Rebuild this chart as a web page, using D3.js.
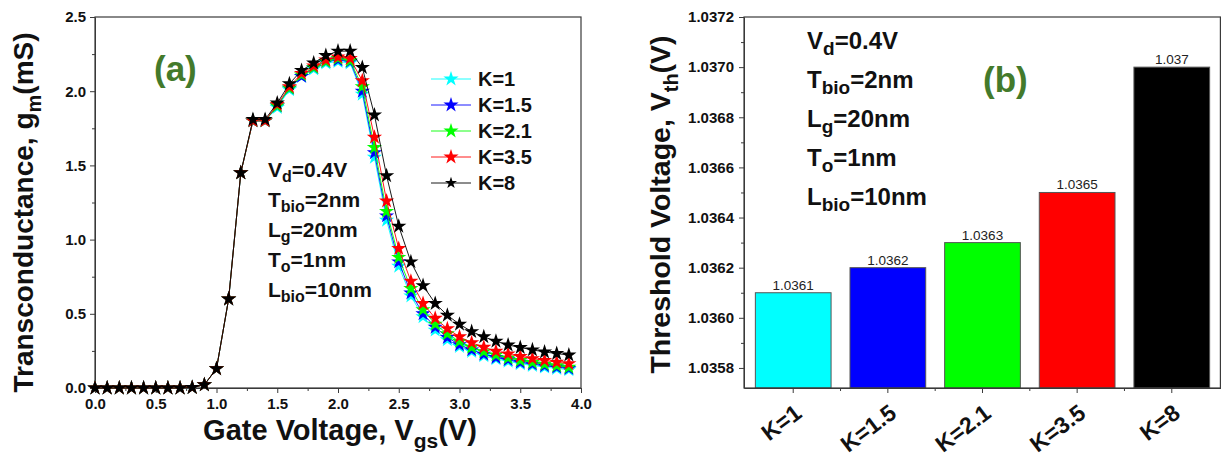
<!DOCTYPE html>
<html>
<head>
<meta charset="utf-8">
<script src="https://cdn.jsdelivr.net/npm/d3@7"></script>
<style>
  html, body { margin: 0; padding: 0; background: #fff; }
  svg { display: block; }
  text { font-family: "Liberation Sans", Arial, sans-serif; }
</style>
</head>
<body>
<svg id="fig" width="1221" height="459"></svg>
<script>
// ---------- data: transconductance vs gate voltage ----------
const vgs = [0.0,0.1,0.2,0.3,0.4,0.5,0.6,0.7,0.8,0.9,1.0,1.1,1.2,1.3,1.4,1.5,1.6,1.7,1.8,1.9,
             2.0,2.1,2.2,2.3,2.4,2.5,2.6,2.7,2.8,2.9,3.0,3.1,3.2,3.3,3.4,3.5,3.6,3.7,3.8,3.9];

const gmK1   = [0,0,0,0,0,0,0,0,0.004,0.022,0.13,0.60,1.45,1.80,1.80,1.89,2.01,2.10,2.15,2.19,
                2.20,2.19,1.98,1.555,1.13,0.82,0.62,0.48,0.39,0.325,0.28,0.246,0.217,0.197,0.18,0.164,0.152,0.141,0.132,0.123];
const gmK1_5 = [0,0,0,0,0,0,0,0,0.004,0.022,0.13,0.60,1.45,1.80,1.80,1.90,2.02,2.10,2.16,2.20,
                2.21,2.20,2.00,1.585,1.16,0.85,0.64,0.50,0.41,0.34,0.292,0.257,0.228,0.206,0.19,0.173,0.161,0.15,0.141,0.132];
const gmK2_1 = [0,0,0,0,0,0,0,0,0.004,0.022,0.13,0.60,1.45,1.80,1.80,1.90,2.02,2.11,2.16,2.20,
                2.22,2.205,2.03,1.62,1.19,0.88,0.67,0.527,0.43,0.365,0.313,0.274,0.245,0.222,0.202,0.186,0.172,0.16,0.15,0.14];
const gmK3_5 = [0,0,0,0,0,0,0,0,0.004,0.022,0.13,0.60,1.45,1.80,1.80,1.91,2.03,2.12,2.17,2.21,
                2.23,2.22,2.07,1.69,1.26,0.94,0.72,0.57,0.47,0.40,0.345,0.305,0.275,0.248,0.23,0.212,0.198,0.186,0.174,0.164];
const gmK8   = [0,0,0,0,0,0,0,0,0.004,0.022,0.13,0.60,1.45,1.81,1.81,1.92,2.05,2.14,2.19,2.24,
                2.27,2.27,2.16,1.84,1.43,1.09,0.85,0.69,0.57,0.49,0.43,0.38,0.345,0.315,0.29,0.273,0.257,0.243,0.232,0.222];

const seriesNames  = ["K=1", "K=1.5", "K=2.1", "K=3.5", "K=8"];
const seriesColors = ["#00ffff", "#0000ff", "#00ff00", "#ff0000", "#000000"];
const seriesValues = [gmK1, gmK1_5, gmK2_1, gmK3_5, gmK8];

const gmXTicks = [0, 0.5, 1, 1.5, 2, 2.5, 3, 3.5, 4];
const gmYTicks = [0, 0.5, 1, 1.5, 2, 2.5];

// ---------- data: threshold voltage per dielectric constant ----------
const kLabels = ["K=1", "K=1.5", "K=2.1", "K=3.5", "K=8"];
const vth     = [1.0361, 1.0362, 1.0363, 1.0365, 1.037];
const vthText = ["1.0361", "1.0362", "1.0363", "1.0365", "1.037"];
const barColors = ["#00ffff", "#0000ff", "#00ff00", "#ff0000", "#000000"];
const vthTicks = [1.0358, 1.0360, 1.0362, 1.0364, 1.0366, 1.0368, 1.0370, 1.0372];
const vthMinor = [1.0359, 1.0361, 1.0363, 1.0365, 1.0367, 1.0369, 1.0371];

const paramLines = [
  ["V", "d", "=0.4V"],
  ["T", "bio", "=2nm"],
  ["L", "g", "=20nm"],
  ["T", "o", "=1nm"],
  ["L", "bio", "=10nm"]
];

const svg = d3.select("#fig");
const frameColor = "#3a3a3a";

// text with a subscript in the middle
function subText(g, x, y, parts, size, subSize, subDy, anchor) {
  const t = g.append("text").attr("x", x).attr("y", y)
    .attr("font-size", size).attr("font-weight", "bold").attr("fill", "#111")
    .attr("text-anchor", anchor || "start");
  t.append("tspan").text(parts[0]);
  t.append("tspan").attr("font-size", subSize).attr("dy", subDy).text(parts[1]);
  t.append("tspan").attr("dy", -subDy).text(parts[2]);
  return t;
}

// =========== panel (a) ===========
const A = { left: 95, right: 581, top: 17, bottom: 388 };
const xA = d3.scaleLinear().domain([0, 4]).range([A.left, A.right]);
const yA = d3.scaleLinear().domain([0, 2.5]).range([A.bottom, A.top]);
const gA = svg.append("g");

// minor ticks
gA.append("g").attr("transform", `translate(0,${A.bottom})`)
  .call(d3.axisBottom(xA).tickValues(d3.range(0.25, 4, 0.5)).tickSize(3).tickFormat(""))
  .call(g => g.select(".domain").remove())
  .call(g => g.selectAll("line").attr("stroke", frameColor));
gA.append("g").attr("transform", `translate(${A.left},0)`)
  .call(d3.axisLeft(yA).tickValues(d3.range(0.25, 2.5, 0.5)).tickSize(3).tickFormat(""))
  .call(g => g.select(".domain").remove())
  .call(g => g.selectAll("line").attr("stroke", frameColor));

// major axes
const axA_x = gA.append("g").attr("transform", `translate(0,${A.bottom})`)
  .call(d3.axisBottom(xA).tickValues(gmXTicks).tickSize(5).tickSizeOuter(0).tickPadding(5).tickFormat(d3.format(".1f")));
const axA_y = gA.append("g").attr("transform", `translate(${A.left},0)`)
  .call(d3.axisLeft(yA).tickValues(gmYTicks).tickSize(5).tickSizeOuter(0).tickPadding(4).tickFormat(d3.format(".1f")));
[axA_x, axA_y].forEach(ax => {
  ax.selectAll("text").attr("font-size", 15).attr("font-weight", "bold").attr("fill", "#111")
    .attr("font-family", "'Liberation Sans', Arial, sans-serif");
  ax.selectAll("line").attr("stroke", frameColor);
  ax.select(".domain").attr("stroke", frameColor);
});
// frame
gA.append("rect").attr("x", A.left).attr("y", A.top)
  .attr("width", A.right - A.left).attr("height", A.bottom - A.top)
  .attr("fill", "none").attr("stroke", frameColor).attr("stroke-width", 1.2);

// curves with star markers
const star = d3.symbol().type(d3.symbolStar).size(72);
const lineA = d3.line().x((d, i) => xA(vgs[i])).y(d => yA(d));
seriesValues.forEach((vals, si) => {
  const col = seriesColors[si];
  gA.append("path").datum(vals).attr("d", lineA)
    .attr("fill", "none").attr("stroke", col).attr("stroke-width", 0.9);
  gA.append("g").selectAll("path").data(vals).join("path")
    .attr("transform", (d, i) => `translate(${xA(vgs[i])},${yA(d)})`)
    .attr("d", star).attr("fill", col);
});

// legend
const legA = gA.append("g");
seriesNames.forEach((name, i) => {
  const y = 79 + i * 26;
  legA.append("line").attr("x1", 431).attr("x2", 471).attr("y1", y).attr("y2", y)
    .attr("stroke", seriesColors[i]).attr("stroke-width", 0.9);
  legA.append("path").attr("transform", `translate(451,${y})`)
    .attr("d", d3.symbol().type(d3.symbolStar).size(i === 4 ? 45 : 72)()).attr("fill", seriesColors[i]);
  legA.append("text").attr("x", 478).attr("y", y + 7).attr("font-size", 20)
    .attr("font-weight", "bold").attr("fill", "#111").text(name);
});

// parameter block
paramLines.forEach((p, i) => subText(gA, 268, 177 + i * 30, p, 21, 16, 5));

// panel tag
gA.append("text").attr("x", 154).attr("y", 81).attr("font-size", 35)
  .attr("font-family", "'Liberation Serif', 'Times New Roman', serif").attr("font-weight", "bold")
  .attr("fill", "#437a2b").text("(a)");

// axis titles
subText(gA, (A.left + A.right) / 2 + 2, 440, ["Gate Voltage, V", "gs", "(V)"], 29, 21, 8, "middle");
subText(gA.append("g").attr("transform", `translate(33,${(A.top + A.bottom) / 2 + 10}) rotate(-90)`),
  0, 0, ["Transconductance, g", "m", "(mS)"], 28, 20, 8, "middle");

// =========== panel (b) ===========
const B = { left: 744, right: 1221, top: 17, bottom: 388 };
const xB = d3.scaleBand().domain(kLabels).range([B.left, B.right]).paddingInner(0.2).paddingOuter(0.12);
const yB = d3.scaleLinear().domain([1.03572, 1.0372]).range([B.bottom, B.top]);
const gB = svg.append("g");

// bars
gB.selectAll("rect.bar").data(vth).join("rect").attr("class", "bar")
  .attr("x", (d, i) => xB(kLabels[i])).attr("width", xB.bandwidth())
  .attr("y", d => yB(d)).attr("height", d => B.bottom - yB(d))
  .attr("fill", (d, i) => barColors[i]).attr("stroke", "#555").attr("stroke-width", 1);

// bar value labels
gB.selectAll("text.val").data(vth).join("text").attr("class", "val")
  .attr("x", (d, i) => xB(kLabels[i]) + xB.bandwidth() / 2).attr("y", d => yB(d) - 3)
  .attr("text-anchor", "middle").attr("font-size", 13.5).attr("fill", "#222")
  .text((d, i) => vthText[i]);

// minor ticks on y, band-boundary ticks on x
gB.append("g").attr("transform", `translate(${B.left},0)`)
  .call(d3.axisLeft(yB).tickValues(vthMinor).tickSize(3).tickFormat(""))
  .call(g => g.select(".domain").remove())
  .call(g => g.selectAll("line").attr("stroke", frameColor));
const bounds = kLabels.slice(1).map((k, i) =>
  (xB(kLabels[i]) + xB.bandwidth() + xB(k)) / 2);
gB.append("g").selectAll("line").data(bounds).join("line")
  .attr("x1", d => d).attr("x2", d => d).attr("y1", B.bottom).attr("y2", B.bottom + 3)
  .attr("stroke", frameColor);

const axB_y = gB.append("g").attr("transform", `translate(${B.left},0)`)
  .call(d3.axisLeft(yB).tickValues(vthTicks).tickSize(5).tickSizeOuter(0).tickPadding(5).tickFormat(d3.format(".4f")));
const axB_x = gB.append("g").attr("transform", `translate(0,${B.bottom})`)
  .call(d3.axisBottom(xB).tickSize(5).tickSizeOuter(0));
axB_y.selectAll("text").attr("font-size", 15).attr("font-weight", "bold").attr("fill", "#111")
  .attr("font-family", "'Liberation Sans', Arial, sans-serif");
axB_x.selectAll("text").attr("font-size", 23).attr("font-weight", "bold").attr("fill", "#111")
  .attr("font-family", "'Liberation Sans', Arial, sans-serif")
  .attr("text-anchor", "end").attr("dy", 0).attr("y", 0)
  .attr("transform", "translate(10,28) rotate(-37)");
[axB_x, axB_y].forEach(ax => {
  ax.selectAll("line").attr("stroke", frameColor);
  ax.select(".domain").attr("stroke", frameColor);
});
gB.append("rect").attr("x", B.left).attr("y", B.top)
  .attr("width", B.right - B.left - 0.6).attr("height", B.bottom - B.top)
  .attr("fill", "none").attr("stroke", frameColor).attr("stroke-width", 1.2);

// parameter block
paramLines.forEach((p, i) => subText(gB, 807, 49 + i * 39, p, 24, 19, 6));

gB.append("text").attr("x", 983).attr("y", 92).attr("font-size", 35)
  .attr("font-family", "'Liberation Serif', 'Times New Roman', serif").attr("font-weight", "bold")
  .attr("fill", "#437a2b").text("(b)");

subText(gB.append("g").attr("transform", `translate(670,${(B.top + B.bottom) / 2 + 2}) rotate(-90)`),
  0, 0, ["Threshold Voltage, V", "th", "(V)"], 28.5, 20, 8, "middle");
</script>
</body>
</html>
